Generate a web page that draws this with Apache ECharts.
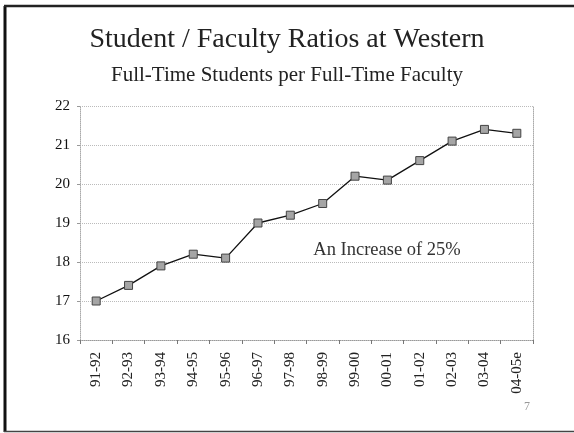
<!DOCTYPE html>
<html><head><meta charset="utf-8">
<script src="https://cdn.jsdelivr.net/npm/echarts@6/dist/echarts.min.js"></script>
<style>html,body{margin:0;padding:0;background:#fff}#c{width:574px;height:433px}</style>
</head><body><div id="c"></div>
<script>
const categories = ["91-92","92-93","93-94","94-95","95-96","96-97","97-98","98-99","99-00","00-01","01-02","02-03","03-04","04-05e"];
const ratios = [17.0,17.4,17.9,18.2,18.1,19.0,19.2,19.5,20.2,20.1,20.6,21.1,21.4,21.3];
const titleText = "Student / Faculty Ratios at Western";
const subtitleText = "Full-Time Students per Full-Time Faculty";
const noteText = "An Increase of 25%";
const pageNo = "7";

const serif = '"Liberation Serif","DejaVu Serif",serif';
const chart = echarts.init(document.getElementById('c'));
chart.setOption({
  animation: false,
  backgroundColor: '#fff',
  title: [
    {text: titleText, left: 'center', top: 21, textStyle: {fontFamily: serif, fontSize: 28, fontWeight: 'normal', color: '#222'}},
    {text: subtitleText, left: 'center', top: 60, textStyle: {fontFamily: serif, fontSize: 21, fontWeight: 'normal', color: '#222'}}
  ],
  grid: {left: 80, right: 41, top: 106, bottom: 93},
  xAxis: {
    type: 'category', data: categories, boundaryGap: true,
    axisLine: {lineStyle: {color: '#999', type: 'dotted'}},
    axisTick: {show: true, length: 4, lineStyle: {color: '#777'}},
    axisLabel: {rotate: 90, fontFamily: serif, fontSize: 15, color: '#222', margin: 12, interval: 0},
    splitLine: {show: false}
  },
  yAxis: [{
    type: 'value', min: 16, max: 22, interval: 1,
    axisLine: {show: true, lineStyle: {color: '#aaa', type: 'dotted'}},
    axisTick: {show: true, length: 3, lineStyle: {color: '#999'}},
    axisLabel: {fontFamily: serif, fontSize: 15, color: '#111', margin: 10},
    splitLine: {show: true, lineStyle: {color: '#bbb', type: 'dotted'}}
  }, {
    type: 'value', min: 16, max: 22, interval: 1, position: 'right',
    axisLine: {show: true, lineStyle: {color: '#aaa', type: 'dotted'}},
    axisTick: {show: false}, axisLabel: {show: false}, splitLine: {show: false}
  }],
  series: [{
    type: 'line', data: ratios, yAxisIndex: 0,
    symbol: 'rect', symbolSize: 8,
    lineStyle: {color: '#111', width: 1.3},
    itemStyle: {color: '#a5a5a5', borderColor: '#444', borderWidth: 1}
  }],
  graphic: [
    {type: 'line', shape: {x1: 5, y1: 6, x2: 5, y2: 432}, style: {stroke: '#111', lineWidth: 3}},
    {type: 'line', shape: {x1: 4, y1: 6, x2: 574, y2: 6}, style: {stroke: '#222', lineWidth: 2.5}},
    {type: 'line', shape: {x1: 4, y1: 431.5, x2: 574, y2: 431.5}, style: {stroke: '#444', lineWidth: 1.5}},
    {type: 'text', x: 387, y: 250, style: {text: noteText, fontFamily: serif, fontSize: 18.5, fill: '#333', align: 'center', verticalAlign: 'middle'}},
    {type: 'text', x: 527, y: 407, style: {text: pageNo, fontFamily: serif, fontSize: 12, fill: '#999', align: 'center', verticalAlign: 'middle'}}
  ]
});
</script></body></html>
